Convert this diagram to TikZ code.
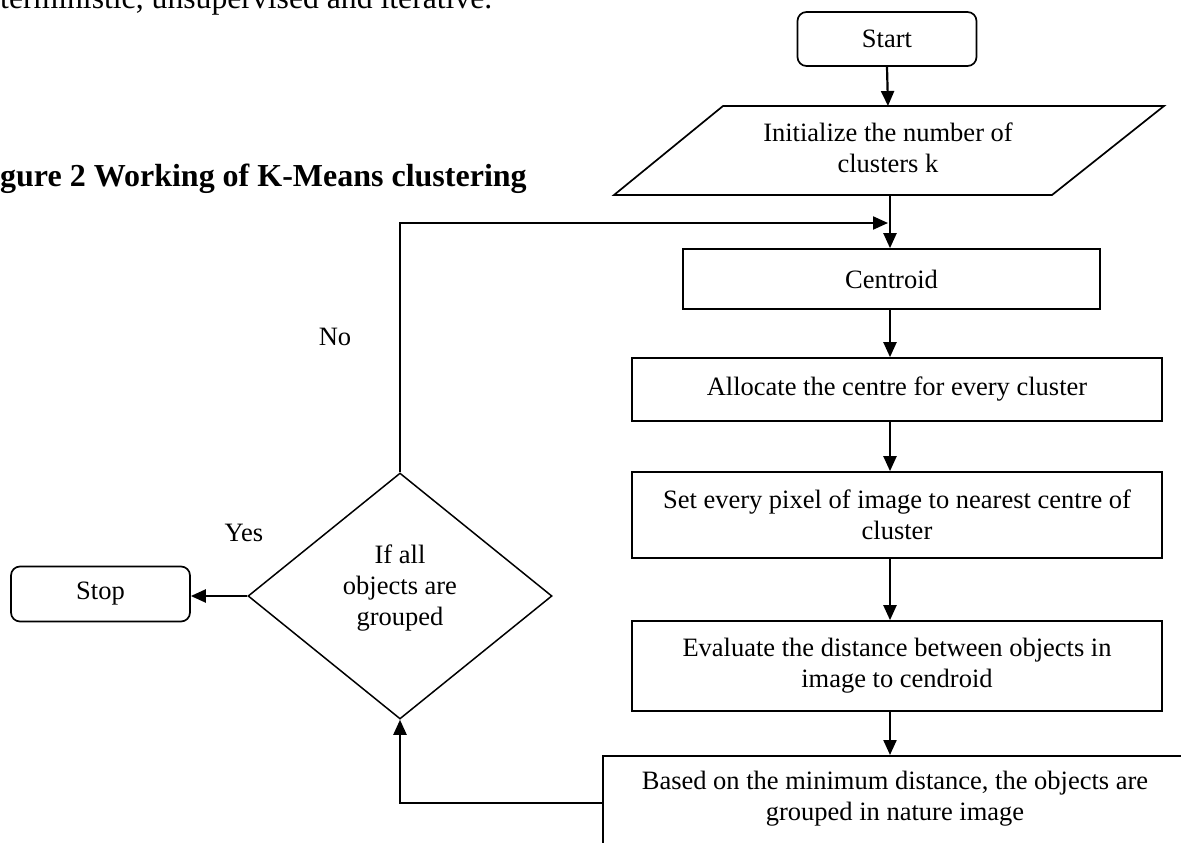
\documentclass[tikz,border=0pt]{standalone}
\usepackage{fontspec}
\setmainfont{Liberation Serif}
\usetikzlibrary{arrows.meta,shapes.geometric}
\begin{document}
\begin{tikzpicture}[x=1pt,y=-1pt,
  every node/.style={font=\fontsize{26.5}{31}\selectfont, align=center, inner sep=0pt},
  box/.style={draw, line width=1.7pt, rectangle},
  term/.style={draw, line width=1.7pt, rounded corners=9pt, rectangle},
  arr/.style={line width=2.2pt, -{Triangle[length=15pt,width=13pt]}},
  bigtext/.style={font=\fontsize{31.7}{38}\selectfont}]
\useasboundingbox (0,0) rectangle (1181,843);
\clip (0,0) rectangle (1181,843);
% running text
\node[bigtext, anchor=base west] (para) at (0,9) {terministic, unsupervised and iterative.};
\node[anchor=base west, font=\fontsize{32}{38}\selectfont\bfseries] (cap) at (0,186) {gure 2 Working of K-Means clustering};
% start
\node[term, minimum width=179pt, minimum height=54pt] (start) at (887,39) {Start};
% parallelogram
\draw[line width=1.7pt] (723,106) -- (1164,106) -- (1052,195) -- (614,195) -- cycle;
\coordinate (initT) at (888,106);
\coordinate (initB) at (890,195);
\node (init) at (888,148) {Initialize the number of\\clusters k};
% process boxes
\node[box, minimum width=417pt, minimum height=60pt] (cent) at (891.5,279) {Centroid};
\node[box, minimum width=530pt, minimum height=63pt] (alloc) at (897,389.5) {Allocate the centre for every cluster};
\node[box, minimum width=530pt, minimum height=86pt] (set) at (897,515) {Set every pixel of image to nearest centre of\\cluster};
\node[box, minimum width=530pt, minimum height=90pt] (eval) at (897,666) {Evaluate the distance between objects in\\image to cendroid};
\node[box, minimum width=620pt, minimum height=140pt, anchor=north west] (grp) at (602,755) {};
\node (grptext) at (895,799) {Based on the minimum distance, the objects are\\grouped in nature image};
% decision and stop
\node[draw, diamond, line width=1.5pt, minimum width=304pt, minimum height=246pt] (dec) at (400,596) {};
\node (dectext) at (400,588) {If all\\objects are\\grouped};
\node[term, minimum width=179pt, minimum height=55pt] (stop) at (100.5,594) {Stop};
\node (yes) at (244,533) {Yes};
\node (no) at (335,337) {No};
% connectors
\coordinate (join) at (888,223);
\coordinate (ret) at (602,803);
\draw[arr] (start.south) -- (initT);
\draw[arr] (initB) -- (initB |- cent.north);
\draw[arr] (initB |- cent.south) -- (initB |- alloc.north);
\draw[arr] (initB |- alloc.south) -- (initB |- set.north);
\draw[arr] (initB |- set.south) -- (initB |- eval.north);
\draw[arr] (initB |- eval.south) -- (initB |- grp.north);
\draw[arr] (dec.north) -- (dec.north |- join) -- (join);
\draw[arr] (dec.west) -- (dec.west -| stop.east);
\draw[arr] (ret) -- (dec.south |- ret) -- (dec.south);
\end{tikzpicture}
\end{document}
